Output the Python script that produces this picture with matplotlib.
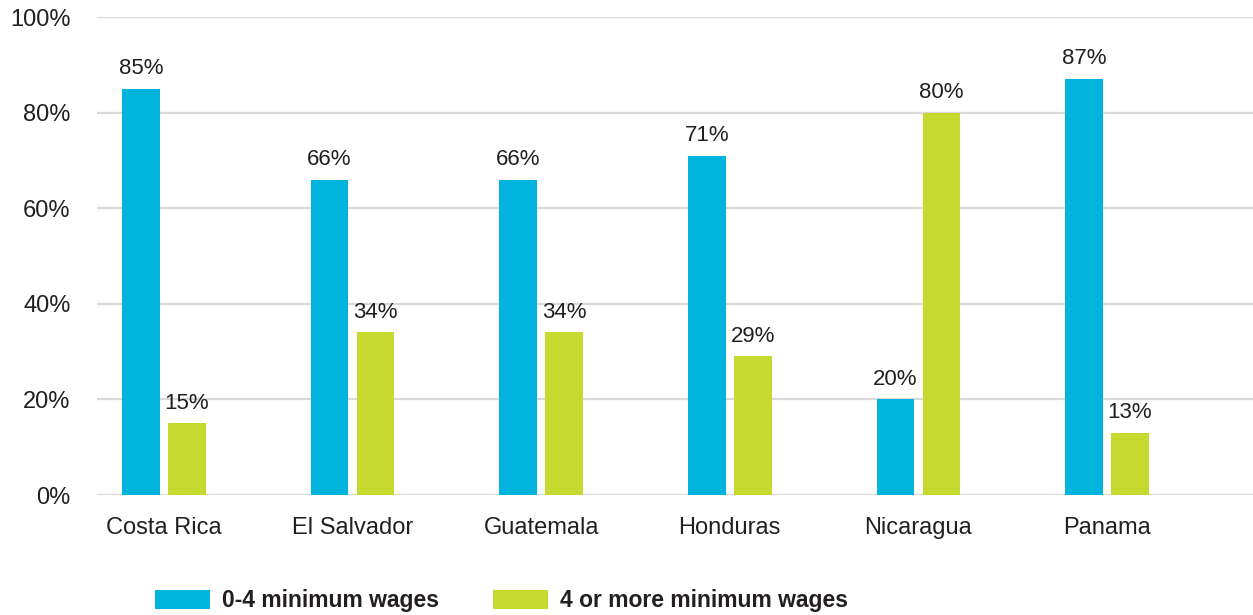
import matplotlib.pyplot as plt
import numpy as np

countries = ['Costa Rica', 'El Salvador', 'Guatemala', 'Honduras', 'Nicaragua', 'Panama']
low_wages = [85, 66, 66, 71, 20, 87]      # 0-4 minimum wages
high_wages = [15, 34, 34, 29, 80, 13]     # 4 or more minimum wages
series_names = ['0-4 minimum wages', '4 or more minimum wages']

BLUE = '#00B4DD'
GREEN = '#C6D92E'
TEXT = '#231F20'
GRID = '#D9D9D9'

plt.rcParams['font.family'] = ['Liberation Sans', 'DejaVu Sans']

fig = plt.figure(figsize=(12.53, 6.15), dpi=100)
ax = fig.add_axes([97 / 1253, 1 - 495 / 615, 1 - 97 / 1253, (495 - 17) / 615])

x = np.arange(len(countries))
w = 0.2
off = 0.122
b1 = ax.bar(x - off, low_wages, w, color=BLUE, label=series_names[0], zorder=3)
b2 = ax.bar(x + off, high_wages, w, color=GREEN, label=series_names[1], zorder=3)

for bars in (b1, b2):
    ax.bar_label(bars, labels=['%d%%' % v for v in bars.datavalues], padding=7,
                 fontsize=16, color=TEXT)

ax.set_xlim(-0.355, 5.774)
ax.set_ylim(0, 100)
ax.set_yticks([0, 20, 40, 60, 80, 100])
ax.set_yticklabels(['%d%%' % t for t in [0, 20, 40, 60, 80, 100]])
ax.set_xticks(x)
ax.set_xticklabels(countries)
ax.tick_params(axis='both', length=0, labelsize=17, labelcolor=TEXT)
ax.tick_params(axis='y', pad=19)
ax.tick_params(axis='x', pad=16)
ax.grid(axis='y', color=GRID, linewidth=1.6, zorder=0)
ax.set_axisbelow(True)
for s in ax.spines.values():
    s.set_visible(False)

fsz = 16.5
em = fsz * 100 / 72
fig.legend(loc='center left', bbox_to_anchor=(155 / 1253, 1 - 601 / 615), ncol=2,
           frameon=False, borderpad=0, borderaxespad=0,
           handlelength=55 / em, handleheight=20 / em, handletextpad=12 / em,
           columnspacing=54 / em,
           prop={'weight': 'bold', 'size': fsz})
for t in fig.legends[0].get_texts():
    t.set_color(TEXT)

fig.savefig('out.png', dpi=100)
